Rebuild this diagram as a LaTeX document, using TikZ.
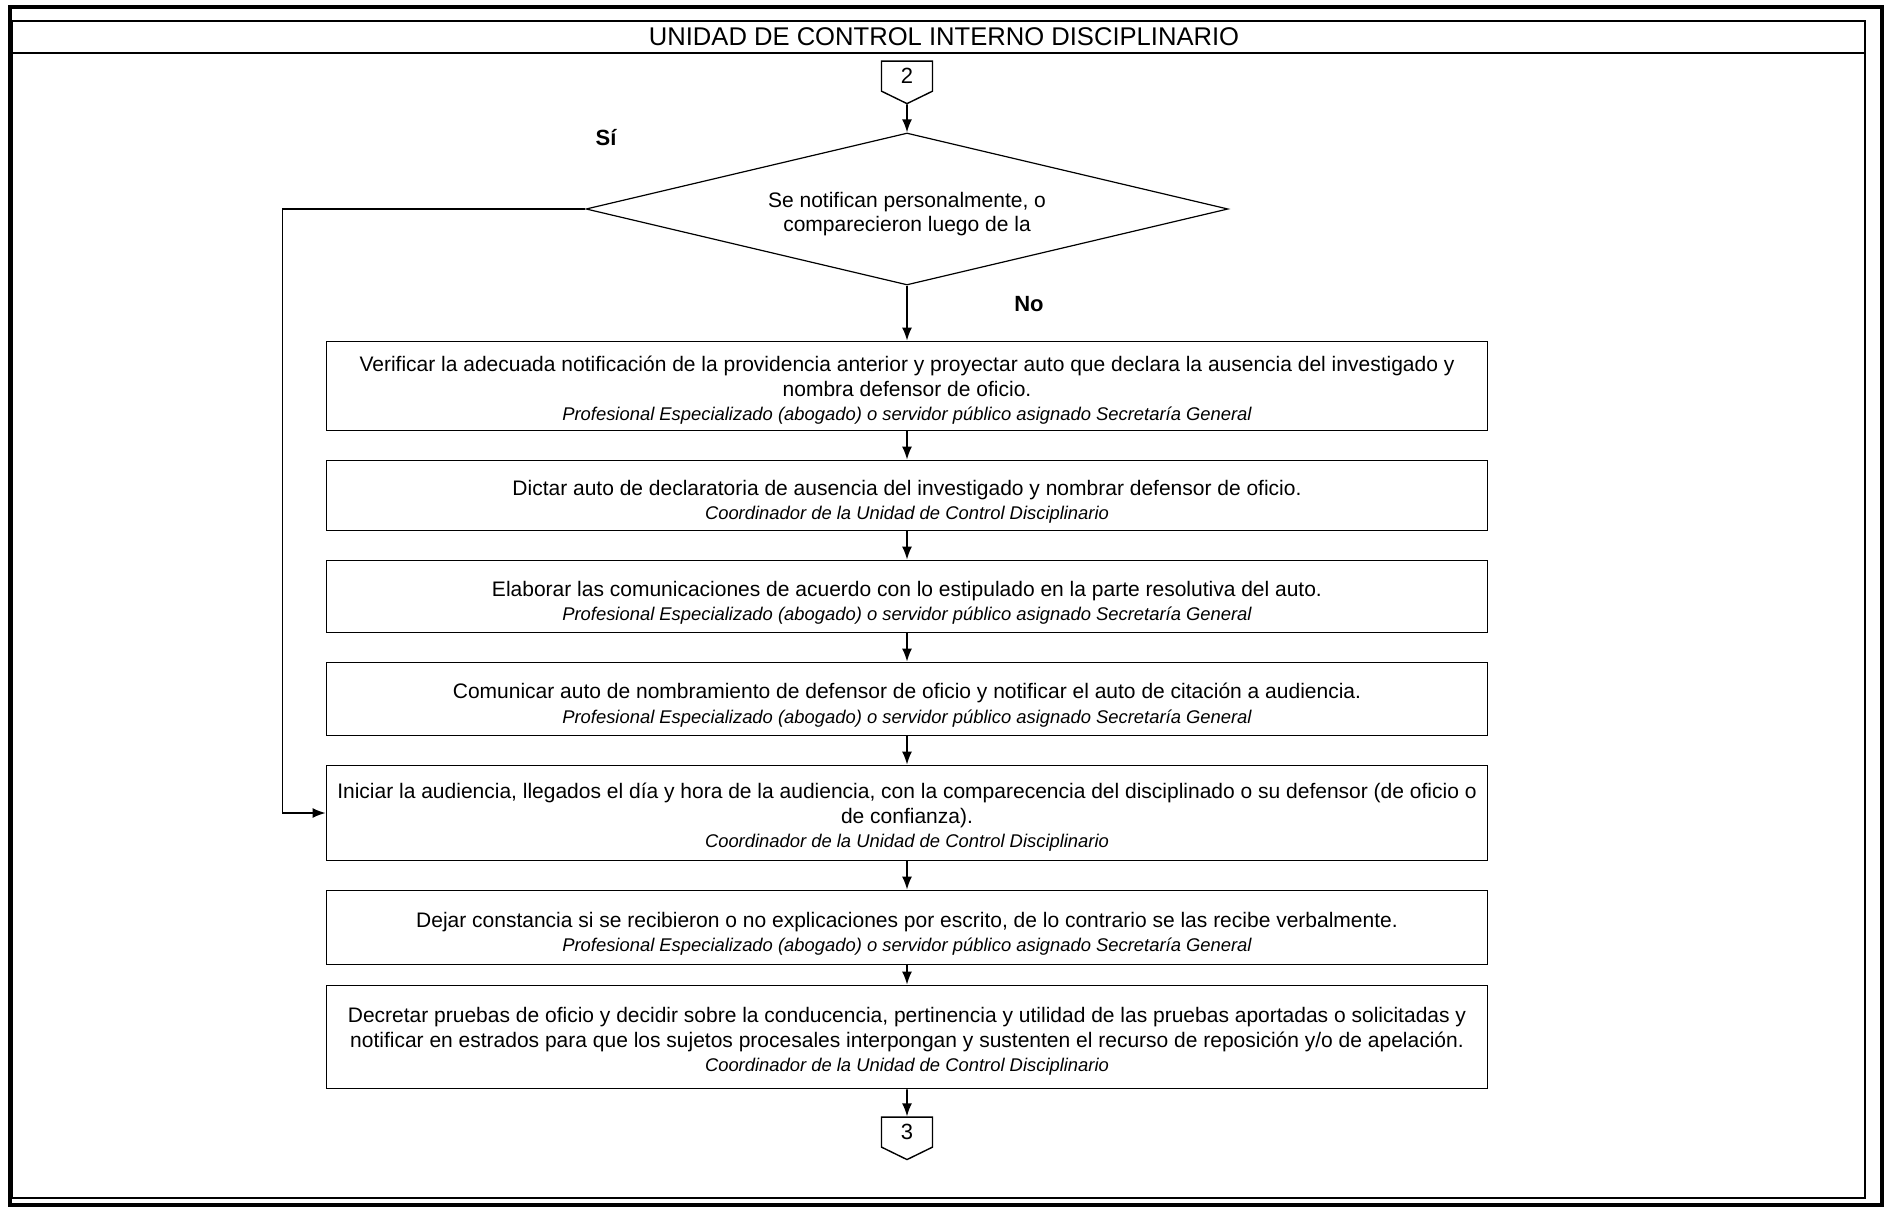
\documentclass[tikz,border=0pt]{standalone}
\usepackage{fontspec}
\setmainfont{Liberation Sans}
\usetikzlibrary{arrows.meta,positioning,shapes.geometric,shapes.symbols}
\tikzset{
  taskbox/.style={draw=black, line width=0.9pt, align=flush center, text width=577pt, minimum width=580.5pt, inner xsep=1.5pt, inner ysep=0pt, text height=14pt, font=\fontsize{10.5}{12.2}\selectfont},
  decision/.style={draw=black, line width=0.6pt, shape=diamond, aspect=4.2, minimum width=321pt, minimum height=76pt, inner sep=0pt, align=flush center, text width=150pt, text height=12.5pt, font=\fontsize{10.5}{12}\selectfont},
  offpage/.style={draw=black, line width=0.7pt, shape=signal, signal to=south, signal pointer angle=128, minimum width=25.5pt, minimum height=16.5pt, inner sep=0pt, font=\fontsize{11}{13}\selectfont},
  answer/.style={font=\fontsize{11}{13}\selectfont\bfseries},
  flowarrow/.style={-{Latex[length=6.5pt,width=5pt]}, line width=0.8pt}
}
\newcommand{\cargo}[1]{{\fontsize{9.2}{11}\selectfont\itshape #1}}

\begin{document}
\begin{tikzpicture}[x=0.5pt, y=-0.5pt, node distance=14.1pt]
    \useasboundingbox (0,0) rectangle (1885,1209);
    % marco y titulo
    \draw[line width=1.6pt] (10,7) rectangle (1882,1205);
    \draw[line width=0.9pt] (12,21) rectangle (1865,1198);
    \draw[line width=0.9pt] (12,53) -- (1865,53);
    \node[font=\fontsize{12.8}{15}\selectfont] (title) at (944,37) {UNIDAD DE CONTROL INTERNO DISCIPLINARIO};
    \node[decision] (dec) at (907,209) {Se notifican personalmente, o\\comparecieron luego de la};
    \node[offpage, above=14pt of dec] (c2) {2};
    \node[answer] (si) at (606,138) {Sí};
    \node[answer] (no) at (1029,304) {No};
    \node[taskbox, minimum height=44.5pt, text height=12pt, below=27.5pt of dec] (verif) {Verificar la adecuada notificación de la providencia anterior y proyectar auto que declara la ausencia del investigado y\\nombra defensor de oficio.\\\cargo{Profesional Especializado (abogado) o servidor público asignado Secretaría General}};
    \node[taskbox, minimum height=35pt, below=of verif] (dictar) {Dictar auto de declaratoria de ausencia del investigado y nombrar defensor de oficio.\\\cargo{Coordinador de la Unidad de Control Disciplinario}};
    \node[taskbox, minimum height=36pt, below=of dictar] (elab) {Elaborar las comunicaciones de acuerdo con lo estipulado en la parte resolutiva del auto.\\\cargo{Profesional Especializado (abogado) o servidor público asignado Secretaría General}};
    \node[taskbox, minimum height=36.5pt, below=of elab] (comun) {Comunicar auto de nombramiento de defensor de oficio y notificar el auto de citación a audiencia.\\\cargo{Profesional Especializado (abogado) o servidor público asignado Secretaría General}};
    \node[taskbox, minimum height=47.5pt, text height=12pt, below=of comun] (inicio) {Iniciar la audiencia, llegados el día y hora de la audiencia, con la comparecencia del disciplinado o su defensor (de oficio o\\de confianza).\\\cargo{Coordinador de la Unidad de Control Disciplinario}};
    \node[taskbox, minimum height=37pt, below=of inicio] (dejar) {Dejar constancia si se recibieron o no explicaciones por escrito, de lo contrario se las recibe verbalmente.\\\cargo{Profesional Especializado (abogado) o servidor público asignado Secretaría General}};
    \node[taskbox, minimum height=51.5pt, text height=12pt, below=9.6pt of dejar] (decretar) {Decretar pruebas de oficio y decidir sobre la conducencia, pertinencia y utilidad de las pruebas aportadas o solicitadas y\\notificar en estrados para que los sujetos procesales interpongan y sustenten el recurso de reposición y/o de apelación.\\\cargo{Coordinador de la Unidad de Control Disciplinario}};
    \node[offpage, below=13.5pt of decretar] (c3) {3};
    % conectores
    \draw[flowarrow] (c2) -- (dec);
    \draw[flowarrow] (dec) -- (verif);
    \draw[flowarrow] (verif) -- (dictar);
    \draw[flowarrow] (dictar) -- (elab);
    \draw[flowarrow] (elab) -- (comun);
    \draw[flowarrow] (comun) -- (inicio);
    \draw[flowarrow] (inicio) -- (dejar);
    \draw[flowarrow] (dejar) -- (decretar);
    \draw[flowarrow] (decretar) -- (c3);
    \draw[flowarrow] (dec.west) -- ++(-303,0) |- (inicio.west);
\end{tikzpicture}
\end{document}
